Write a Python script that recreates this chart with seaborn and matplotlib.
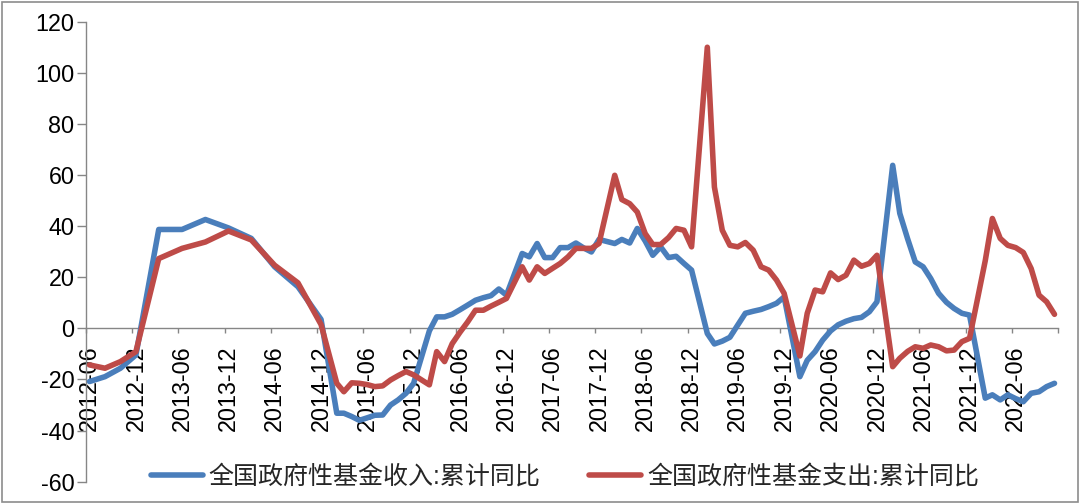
import matplotlib
matplotlib.use('Agg')
import matplotlib.pyplot as plt
from matplotlib.patches import Rectangle
from matplotlib.ticker import NullFormatter, FixedFormatter
import seaborn as sns
import pandas as pd

# reporting months (2012 bimonthly, 2013-2014 quarterly, then monthly w/o January)
months = [
    '2012-06', '2012-08', '2012-10', '2012-12',
    '2013-03', '2013-06', '2013-09', '2013-12',
    '2014-03', '2014-06', '2014-09', '2014-12',
    '2015-02', '2015-03', '2015-04', '2015-05', '2015-06', '2015-07', '2015-08', '2015-09', '2015-10', '2015-11', '2015-12',
    '2016-02', '2016-03', '2016-04', '2016-05', '2016-06', '2016-07', '2016-08', '2016-09', '2016-10', '2016-11', '2016-12',
    '2017-02', '2017-03', '2017-04', '2017-05', '2017-06', '2017-07', '2017-08', '2017-09', '2017-10', '2017-11', '2017-12',
    '2018-02', '2018-03', '2018-04', '2018-05', '2018-06', '2018-07', '2018-08', '2018-09', '2018-10', '2018-11', '2018-12',
    '2019-02', '2019-03', '2019-04', '2019-05', '2019-06', '2019-07', '2019-08', '2019-09', '2019-10', '2019-11', '2019-12',
    '2020-02', '2020-03', '2020-04', '2020-05', '2020-06', '2020-07', '2020-08', '2020-09', '2020-10', '2020-11', '2020-12',
    '2021-02', '2021-03', '2021-04', '2021-05', '2021-06', '2021-07', '2021-08', '2021-09', '2021-10', '2021-11', '2021-12',
    '2022-02', '2022-03', '2022-04', '2022-05', '2022-06', '2022-07', '2022-08', '2022-09', '2022-10', '2022-11',
]

# 全国政府性基金收入:累计同比 (%)
revenue_yoy = [
    -20.8, -18.9, -15.6, -10.4,
    38.7, 38.7, 42.6, 39.3,
    35.2, 24.1, 16.3, 3.5,
    -33.2, -33.2, -34.5, -36.0, -35.0, -34.0, -33.9, -30.0, -28.0, -25.4, -21.5,
    -1.0, 4.5, 4.5, 5.5, 7.3, 9.1, 11.0, 12.0, 12.8, 15.4, 13.0,
    29.3, 28.0, 33.2, 27.7, 27.7, 31.6, 31.6, 33.4, 31.5, 29.9, 34.8,
    33.2, 34.8, 33.4, 39.1, 34.2, 28.6, 31.9, 27.7, 28.2, 25.4, 22.8,
    -2.0, -6.1, -5.0, -3.5, 1.3, 5.9, 6.7, 7.4, 8.5, 9.8, 12.3,
    -18.9, -12.5, -9.1, -4.6, -1.0, 1.4, 2.8, 3.8, 4.3, 6.5, 10.4,
    63.8, 45.0, 35.0, 26.0, 24.1, 19.5, 13.7, 10.2, 7.8, 5.9, 5.2,
    -27.3, -26.0, -28.0, -26.0, -27.5, -28.7, -25.4, -24.8, -22.8, -21.5,
]

# 全国政府性基金支出:累计同比 (%)
expenditure_yoy = [
    -14.3, -15.6, -13.0, -9.1,
    27.3, 31.3, 33.8, 38.1,
    34.6, 24.7, 17.8, 1.5,
    -21.5, -24.8, -21.3, -21.5, -22.0, -22.8, -22.5, -20.2, -18.5, -16.9, -18.2,
    -22.1, -9.1, -13.0, -6.0, -1.5, 2.5, 7.1, 7.1, 8.7, 10.2, 11.7,
    24.1, 18.9, 24.1, 21.5, 23.5, 25.4, 28.0, 31.3, 31.3, 31.3, 33.2,
    59.9, 50.4, 48.8, 45.5, 37.1, 32.8, 32.8, 35.5, 39.1, 38.4, 31.9,
    110.0, 55.3, 38.4, 32.5, 31.9, 33.6, 30.6, 24.1, 22.8, 18.9, 13.7,
    -10.8, 5.9, 15.0, 14.3, 21.7, 19.1, 20.8, 26.7, 24.3, 25.4, 28.6,
    -15.0, -11.7, -9.0, -7.2, -7.8, -6.5, -7.2, -8.8, -8.5, -5.2, -3.9,
    26.5, 43.0, 35.2, 32.5, 31.6, 29.7, 23.4, 13.0, 10.4, 5.5,
]

tick_months = ['2012-06', '2012-12', '2013-06', '2013-12', '2014-06', '2014-12',
               '2015-06', '2015-12', '2016-06', '2016-12', '2017-06', '2017-12',
               '2018-06', '2018-12', '2019-06', '2019-12', '2020-06', '2020-12',
               '2021-06', '2021-12', '2022-06']

label_rev = '全国政府性基金收入:累计同比'
label_exp = '全国政府性基金支出:累计同比'
BLUE = '#4A7EBB'
RED = '#BE4B48'
GREY = '#868686'

sns.set_style('white')
plt.rcParams['font.family'] = ['Liberation Sans', 'Noto Sans CJK SC']
plt.rcParams['axes.unicode_minus'] = False

# points sit in the middle of each month (Excel date axis, between tick marks)
df = pd.DataFrame({
    'date': pd.to_datetime(months) + pd.Timedelta(days=15),
    'rev': revenue_yoy,
    'exp': expenditure_yoy,
})

W, H = 1080, 504
fig = plt.figure(figsize=(W / 100, H / 100), dpi=100)
ax = fig.add_axes([85.7 / W, 22.3 / H, 972.6 / W, 460 / H])

line_kw = dict(linewidth=4, solid_joinstyle='round', solid_capstyle='round', zorder=3)
sns.lineplot(data=df, x='date', y='rev', color=BLUE, label=label_rev, ax=ax, **line_kw)
sns.lineplot(data=df, x='date', y='exp', color=RED, label=label_exp, ax=ax, **line_kw)

# y axis
ax.set_ylim(-60, 120)
ax.set_yticks(range(-60, 121, 20))
ax.tick_params(axis='y', left=True, direction='out', length=6.5, width=1,
               color=GREY, pad=1.5, labelsize=16.8, labelcolor='black')

# x axis crossing at zero: tick marks on 6-month boundaries, labels mid-month
major = pd.date_range('2012-06-01', '2022-12-01', freq='6MS')
ax.set_xlim(pd.Timestamp('2012-06-01'), pd.Timestamp('2022-12-01'))
ax.set_xticks(major)
ax.xaxis.set_major_formatter(NullFormatter())
ax.set_xticks(pd.to_datetime(tick_months) + pd.Timedelta(days=15), minor=True)
ax.xaxis.set_minor_formatter(FixedFormatter(tick_months))
ax.tick_params(axis='x', which='major', bottom=True, direction='out', length=3.6,
               width=1, color=GREY)
ax.tick_params(axis='x', which='minor', bottom=True, length=0, pad=12,
               labelrotation=90, labelsize=16.8, labelcolor='black')

for side in ['top', 'right']:
    ax.spines[side].set_visible(False)
ax.spines['bottom'].set_position(('data', 0))
for side in ['left', 'bottom']:
    ax.spines[side].set_color(GREY)
    ax.spines[side].set_linewidth(1)

ax.set_xlabel('')
ax.set_ylabel('')

ax.legend(loc='center', bbox_to_anchor=(565 / W, 1 - 476.5 / H),
          bbox_transform=fig.transFigure, ncol=2, frameon=False,
          fontsize=18, handlelength=2.05, handletextpad=0.25,
          columnspacing=1.95)

# outer chart frame
fig.patches.append(Rectangle((1.5 / W, 2.3 / H), 1076.2 / W, 499.4 / H,
                             transform=fig.transFigure, fill=False,
                             edgecolor='#8C8C8C', linewidth=1.2))

fig.savefig('out.png', dpi=100)
